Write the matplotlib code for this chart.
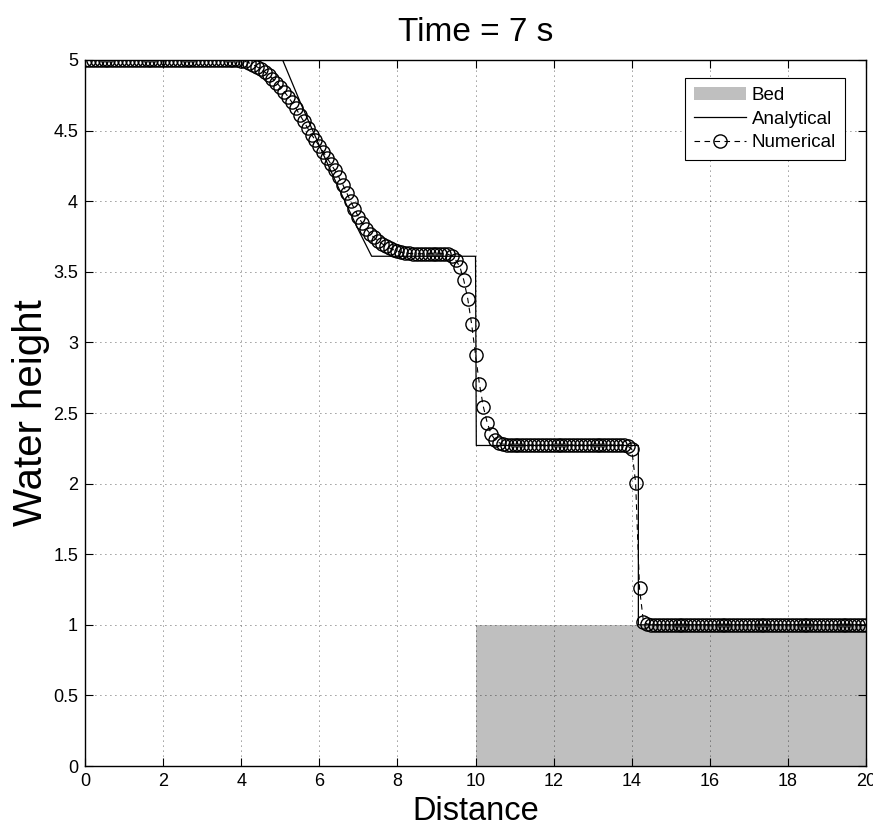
import numpy as np
import matplotlib
matplotlib.use("Agg")
import matplotlib.pyplot as plt
from matplotlib.patches import Patch
from matplotlib.lines import Line2D

plt.rcParams['font.family'] = ['Liberation Sans', 'DejaVu Sans']

# ---- data -------------------------------------------------------------
title_text = "Time = 7 s"
x_label = "Distance"
y_label = "Water height"
legend_labels = ["Bed", "Analytical", "Numerical"]

x_ticks = [0, 2, 4, 6, 8, 10, 12, 14, 16, 18, 20]
y_ticks = [0, 0.5, 1, 1.5, 2, 2.5, 3, 3.5, 4, 4.5, 5]
y_tick_labels = ["0", "0.5", "1", "1.5", "2", "2.5", "3", "3.5", "4", "4.5", "5"]

# bed step: (x, z)
bed_x = [10.0, 20.0]
bed_z = [1.0, 1.0]

# analytical solution (piecewise: still water, rarefaction fan, plateaus, shock)
ana_x = [0.0, 5.06, 5.5, 6.0, 6.5, 7.0, 7.34, 10.0, 10.02, 14.17, 14.17, 20.0]
ana_h = [5.0, 5.0, 4.708, 4.394, 4.090, 3.797, 3.61, 3.61, 2.27, 2.27, 1.0, 1.0]

# numerical solution on the 0.1 grid, x = 0 .. 20
num_x = np.linspace(0.0, 20.0, 201)
h_upstream = [5.0, 5.0, 5.0, 5.0, 5.0, 5.0, 5.0, 5.0, 5.0, 5.0,
              5.0, 5.0, 5.0, 5.0, 5.0, 5.0, 5.0, 5.0, 5.0, 5.0,
              5.0, 5.0, 5.0, 5.0, 5.0, 5.0, 5.0, 5.0, 5.0, 5.0,
              5.0, 5.0, 5.0, 5.0, 5.0, 5.0, 5.0, 5.0, 5.0]
h_rarefaction = [4.998, 4.995, 4.99, 4.98, 4.967, 4.952, 4.935, 4.915, 4.893, 4.868,
                 4.84, 4.81, 4.776, 4.74, 4.70, 4.657, 4.612, 4.566, 4.518, 4.472,
                 4.43, 4.39, 4.35, 4.305, 4.262, 4.218, 4.17, 4.118, 4.06, 4.0,
                 3.945, 3.89, 3.843, 3.803, 3.77, 3.743, 3.72, 3.70, 3.683, 3.668,
                 3.656, 3.646, 3.638, 3.633, 3.63]
h_middle = [3.628, 3.628, 3.628, 3.628, 3.628, 3.628, 3.628, 3.628, 3.628]
h_step_drop = [3.624, 3.61, 3.58, 3.535, 3.44, 3.31, 3.13, 2.91,
               2.705, 2.545, 2.43, 2.35, 2.31, 2.29, 2.28, 2.276]
h_lower = [2.273, 2.273, 2.273, 2.273, 2.273, 2.273, 2.273, 2.273, 2.273, 2.273,
           2.273, 2.273, 2.273, 2.273, 2.273, 2.273, 2.273, 2.273, 2.273, 2.273,
           2.273, 2.273, 2.273, 2.273, 2.273, 2.273, 2.273, 2.273, 2.273, 2.273]
h_shock = [2.265, 2.245, 2.006, 1.258, 1.022, 1.006]
h_downstream = [1.0, 1.0, 1.0, 1.0, 1.0, 1.0, 1.0, 1.0, 1.0, 1.0,
                1.0, 1.0, 1.0, 1.0, 1.0, 1.0, 1.0, 1.0, 1.0, 1.0,
                1.0, 1.0, 1.0, 1.0, 1.0, 1.0, 1.0, 1.0, 1.0, 1.0,
                1.0, 1.0, 1.0, 1.0, 1.0, 1.0, 1.0, 1.0, 1.0, 1.0,
                1.0, 1.0, 1.0, 1.0, 1.0, 1.0, 1.0, 1.0, 1.0, 1.0,
                1.0, 1.0, 1.0, 1.0, 1.0, 1.0]
num_h = np.array(h_upstream + h_rarefaction + h_middle + h_step_drop
                 + h_lower + h_shock + h_downstream)

# ---- figure -----------------------------------------------------------
fig = plt.figure(figsize=(8.73, 8.33), dpi=100)
ax = fig.add_axes([0.0974, 0.0804, 0.8946, 0.8476])

bed_color = "#bfbfbf"
num_style = dict(color="black", linewidth=0.8, linestyle=(0, (5, 4)),
                 marker="o", markersize=9.5, markerfacecolor="none",
                 markeredgecolor="black", markeredgewidth=1.0)

ax.fill_between(bed_x, 0, bed_z, color=bed_color, linewidth=0, zorder=1)
ax.plot(ana_x, ana_h, color="black", linewidth=0.9, zorder=3)
ax.plot(num_x, num_h, zorder=4, **num_style)

ax.set_xlim(0, 20)
ax.set_ylim(0, 5)
ax.set_xticks(x_ticks)
ax.set_xticklabels([str(t) for t in x_ticks])
ax.set_yticks(y_ticks)
ax.set_yticklabels(y_tick_labels)
ax.tick_params(direction="in", length=6, width=0.8, labelsize=13,
               top=True, right=True, pad=5)
ax.grid(True, linestyle=(0, (1, 5)), color="black", linewidth=0.6, alpha=0.8)
ax.set_axisbelow(False)
for s in ax.spines.values():
    s.set_linewidth(1.0)
    s.set_zorder(5)

ax.set_title(title_text, fontsize=24, pad=14)
ax.set_xlabel(x_label, fontsize=23.5, labelpad=4)
ax.set_ylabel(y_label, fontsize=29, labelpad=2)

handles = [Patch(facecolor=bed_color, edgecolor="none"),
           Line2D([], [], color="black", linewidth=0.9),
           Line2D([], [], **num_style)]
leg = ax.legend(handles, legend_labels, loc="upper right",
                bbox_to_anchor=(0.9725, 0.974), fontsize=13.5,
                fancybox=False, framealpha=1, edgecolor="black",
                handlelength=2.8, handletextpad=0.3, borderpad=0.45,
                labelspacing=0.35, borderaxespad=0)
leg.get_frame().set_linewidth(0.8)
leg.set_zorder(6)

fig.savefig("out.png", dpi=100)
